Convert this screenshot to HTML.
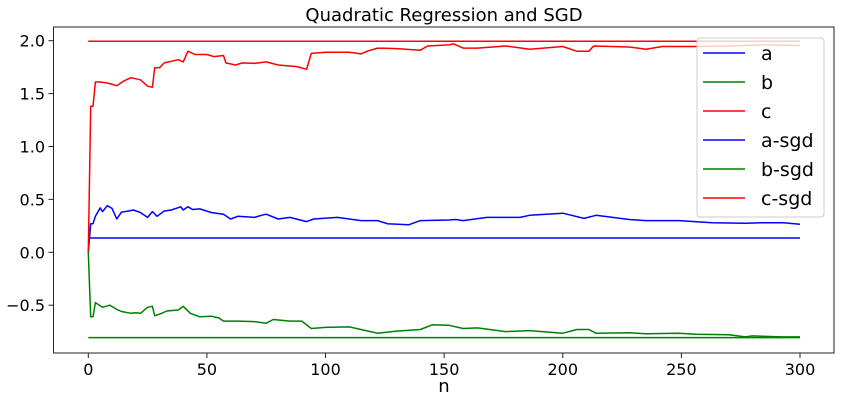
<!DOCTYPE html>
<html><head><meta charset="utf-8"><style>
body{margin:0;background:#fff;}
svg{display:block;font-family:"DejaVu Sans","Liberation Sans",sans-serif;}
</style></head><body>
<svg id="chart" width="841" height="404" viewBox="0 0 841 404">
<rect x="0" y="0" width="841" height="404" fill="#fff"/>
<text x="444" y="21" text-anchor="middle" font-size="18" fill="#000">Quadratic Regression and SGD</text>
<g id="grid-ticks"></g>
<g id="series"></g>
<rect x="53.5" y="27" width="780.5" height="326" fill="none" stroke="#222" stroke-width="1"/>
<text x="444" y="392" text-anchor="middle" font-size="18" fill="#000">n</text>
<g id="legend"></g>
</svg>
<script>
const xTicks=[0,50,100,150,200,250,300];
const yTicks=[-0.5,0.0,0.5,1.0,1.5,2.0];
const yTickLabels=["−0.5","0.0","0.5","1.0","1.5","2.0"];
const nMax=300;
const aTrue=0.135, bTrue=-0.807, cTrue=1.995;
const cX=[0,1,2,3,5,8,12,15,18,22,25,27,28,30,32,38,40,42,45,50,53,57,58,62,65,70,75,80,88,92,94,100,110,115,118,122,130,140,143,152,154,158,164,176,186,200,206,211,213,228,235,242,256,270,284,300];
const cSgd=[0,1.38,1.38,1.61,1.61,1.60,1.575,1.62,1.65,1.63,1.57,1.56,1.745,1.745,1.79,1.82,1.80,1.90,1.87,1.87,1.85,1.86,1.79,1.77,1.79,1.785,1.80,1.77,1.755,1.73,1.88,1.89,1.89,1.875,1.905,1.93,1.925,1.91,1.95,1.96,1.97,1.93,1.93,1.95,1.92,1.945,1.90,1.90,1.95,1.94,1.92,1.945,1.945,1.95,1.96,1.955];
const aX=[0,1,2,3,5,6,8,10,12,14,17,19,22,25,27,29,32,35,39,40,42,44,47,52,57,60,63,70,73,75,80,85,92,95,105,115,122,126,135,140,152,155,158,168,182,186,200,209,214,228,235,249,263,277,284,293,300];
const aSgd=[0,0.27,0.27,0.34,0.42,0.385,0.44,0.415,0.315,0.38,0.39,0.40,0.375,0.33,0.385,0.34,0.39,0.40,0.43,0.40,0.43,0.405,0.41,0.375,0.36,0.315,0.34,0.33,0.35,0.36,0.315,0.33,0.29,0.315,0.33,0.30,0.30,0.27,0.26,0.30,0.305,0.31,0.30,0.33,0.33,0.35,0.37,0.32,0.35,0.31,0.30,0.30,0.28,0.275,0.28,0.28,0.265];
const bX=[0,1,2,3,6,9,12,14,18,20,22,25,27,28,31,33,38,40,43,47,52,55,57,63,70,75,78,85,90,94,100,110,118,122,130,140,145,152,158,164,176,186,200,206,211,214,228,235,249,256,270,277,280,292,300];
const bSgd=[0,-0.61,-0.61,-0.475,-0.52,-0.50,-0.54,-0.56,-0.577,-0.572,-0.577,-0.52,-0.51,-0.60,-0.577,-0.555,-0.545,-0.51,-0.577,-0.61,-0.605,-0.62,-0.65,-0.65,-0.655,-0.67,-0.635,-0.65,-0.65,-0.72,-0.71,-0.705,-0.745,-0.765,-0.745,-0.73,-0.685,-0.69,-0.72,-0.715,-0.75,-0.74,-0.765,-0.73,-0.73,-0.765,-0.76,-0.77,-0.765,-0.775,-0.78,-0.80,-0.79,-0.80,-0.80];
const legendLabels=["a","b","c","a-sgd","b-sgd","c-sgd"];
const legendColors=["#0000ff","#008000","#ff0000","#0000ff","#008000","#ff0000"];

const NS="http://www.w3.org/2000/svg";
const X0=88.3, X1=800, Y0=252.3, PXU=105.8;
function sx(n){return X0+(n/nMax)*(X1-X0);}
function sy(v){return Y0-v*PXU;}
function mk(tag,attrs,parent){const e=document.createElementNS(NS,tag);for(const k in attrs)e.setAttribute(k,attrs[k]);parent.appendChild(e);return e;}

const gt=document.getElementById('grid-ticks');
xTicks.forEach(t=>{
  const l=mk('line',{x1:sx(t),x2:sx(t),y1:353,y2:358,stroke:'#222'},gt);
  
  
  const tx=mk('text',{x:sx(t),y:375,'text-anchor':'middle','font-size':16,fill:'#000'},gt);
  tx.textContent=String(t);
  
  
});
yTicks.forEach((t,i)=>{
  const l=mk('line',{x1:48.5,x2:53.5,y1:sy(t),y2:sy(t),stroke:'#222'},gt);
  
  
  const tx=mk('text',{x:45,y:sy(t)+6,'text-anchor':'end','font-size':16,fill:'#000'},gt);
  tx.textContent=yTickLabels[i];
  
  
});

const sg=document.getElementById('series');
function hline(v,color,name){
  const l=mk('line',{x1:sx(0),x2:sx(nMax),y1:sy(v),y2:sy(v),stroke:color,'stroke-width':1.5},sg);
  
  
}
function poly(xs,vs,color,name){
  const pts=xs.map((x,i)=>sx(x).toFixed(1)+','+sy(vs[i]).toFixed(1)).join(' ');
  const p=mk('polyline',{points:pts,fill:'none',stroke:color,'stroke-width':1.5,'stroke-linejoin':'round'},sg);
  
  
}
hline(aTrue,'#0000ff','line-a');
hline(bTrue,'#008000','line-b');
hline(cTrue,'#ff0000','line-c');
poly(aX,aSgd,'#0000ff','line-a-sgd');
poly(bX,bSgd,'#008000','line-b-sgd');
poly(cX,cSgd,'#ff0000','line-c-sgd');

const lg=document.getElementById('legend');
const box=mk('rect',{x:697,y:38,width:127,height:179,rx:3,fill:'#fff','fill-opacity':0.8,stroke:'#ccc'},lg);


legendLabels.forEach((lab,i)=>{
  const y=53+i*29;
  const l=mk('line',{x1:703,x2:745,y1:y,y2:y,stroke:legendColors[i],'stroke-width':1.5},lg);
  
  
  const t=mk('text',{x:761,y:y+7,'font-size':19,fill:'#000'},lg);
  t.textContent=lab;
  
  
});
</script>
</body></html>
